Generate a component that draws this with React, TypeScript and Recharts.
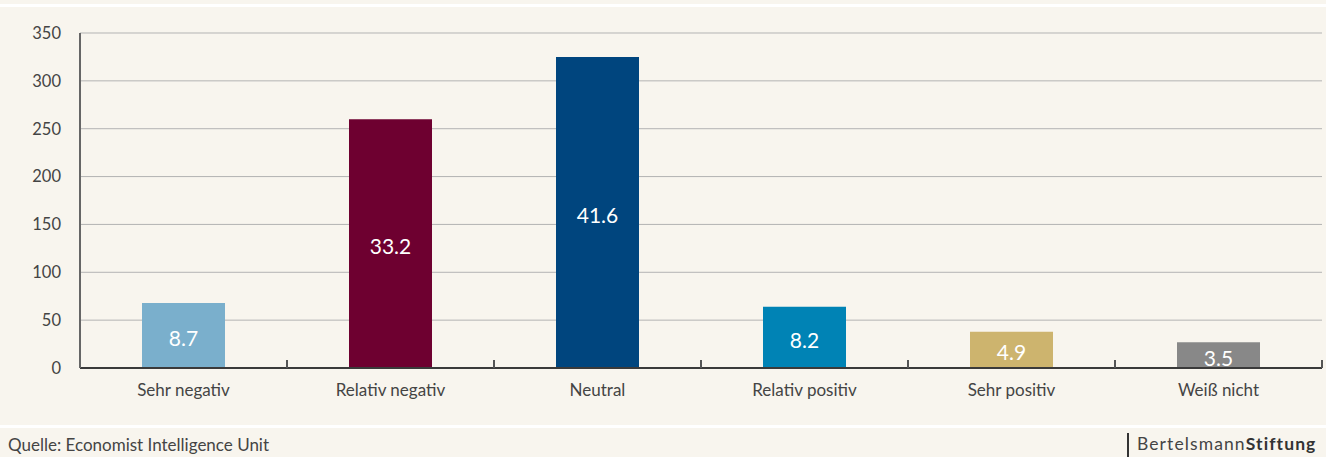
import React from "react";
import { BarChart, Bar, XAxis, YAxis, CartesianGrid, Cell, LabelList } from "recharts";

const categories = ["Sehr negativ", "Relativ negativ", "Neutral", "Relativ positiv", "Sehr positiv", "Weiß nicht"];
const counts = [68, 260, 325, 64, 38, 27];
const percents = ["8.7", "33.2", "41.6", "8.2", "4.9", "3.5"];
const colors = ["#7aafcc", "#6e0030", "#00457e", "#0083b5", "#cdb46e", "#888888"];
const yTicks = [0, 50, 100, 150, 200, 250, 300, 350];

const data = categories.map((c, i) => ({ name: c, value: counts[i], pct: percents[i] }));

const BG = "#f8f5ee";
const FONT = "Lato, 'Open Sans', sans-serif";

const CategoryTick = (props: any) => {
  const { x, y, payload } = props;
  const half = payload && typeof payload.offset === "number" ? payload.offset : 0;
  const isLast = payload && payload.index === categories.length - 1;
  return (
    <g>
      {payload.index > 0 && (
        <line x1={x - half} x2={x - half} y1={y - 8} y2={y} stroke="#555" strokeWidth={2} />
      )}
      {isLast && <line x1={x + half} x2={x + half} y1={y - 8} y2={y} stroke="#555" strokeWidth={2} />}
      <text x={x} y={y + 16} dy="0.71em" textAnchor="middle" fill="#444" fontSize={17} fontFamily={FONT}>
        {payload.value}
      </text>
    </g>
  );
};

export default function App() {
  return (
    <div style={{ position: "fixed", left: 0, top: 0, width: 1326, height: 457, background: BG, fontFamily: FONT, overflow: "hidden" }}>
      <div style={{ position: "absolute", left: 0, top: 4, width: 1326, height: 3, background: "#ffffff" }} />
      <div style={{ position: "absolute", left: 0, top: 0 }}>
        <BarChart width={1326} height={420} data={data} margin={{ top: 33, right: 4, left: 0, bottom: 12 }}>
          <CartesianGrid vertical={false} stroke="#b3b3b3" strokeWidth={1} />
          <XAxis
            dataKey="name"
            height={40}
            axisLine={{ stroke: "#3a3a3a", strokeWidth: 2 }}
            tickLine={false}
            tickSize={0}
            tickMargin={0}
            interval={0}
            tick={CategoryTick}
          />
          <YAxis
            domain={[0, 350]}
            ticks={yTicks}
            width={80}
            tickLine={false}
            tickSize={0}
            tickMargin={19}
            axisLine={{ stroke: "#666", strokeWidth: 2 }}
            tick={{ fill: "#444", fontSize: 16.5, fontFamily: FONT }}
          />
          <Bar dataKey="value" isAnimationActive={false} barSize={83}>
            {data.map((d, i) => (
              <Cell key={d.name} fill={colors[i]} />
            ))}
            <LabelList dataKey="pct" position="center" dy={3} fill="#ffffff" fontSize={21} fontFamily={FONT} />
          </Bar>
        </BarChart>
      </div>
      <div style={{ position: "absolute", left: 0, top: 425, width: 1326, height: 3, background: "#ffffff" }} />
      <div style={{ position: "absolute", left: 8, top: 434, fontSize: 17, color: "#444", fontFamily: FONT }}>
        Quelle: Economist Intelligence Unit
      </div>
      <div style={{ position: "absolute", left: 1127, top: 433, width: 2, height: 24, background: "#333" }} />
      <div style={{ position: "absolute", left: 1137, top: 433, fontSize: 17.5, color: "#444", fontFamily: FONT, letterSpacing: 1.1 }}>
        Bertelsmann<span style={{ fontWeight: 700, color: "#333" }}>Stiftung</span>
      </div>
    </div>
  );
}
